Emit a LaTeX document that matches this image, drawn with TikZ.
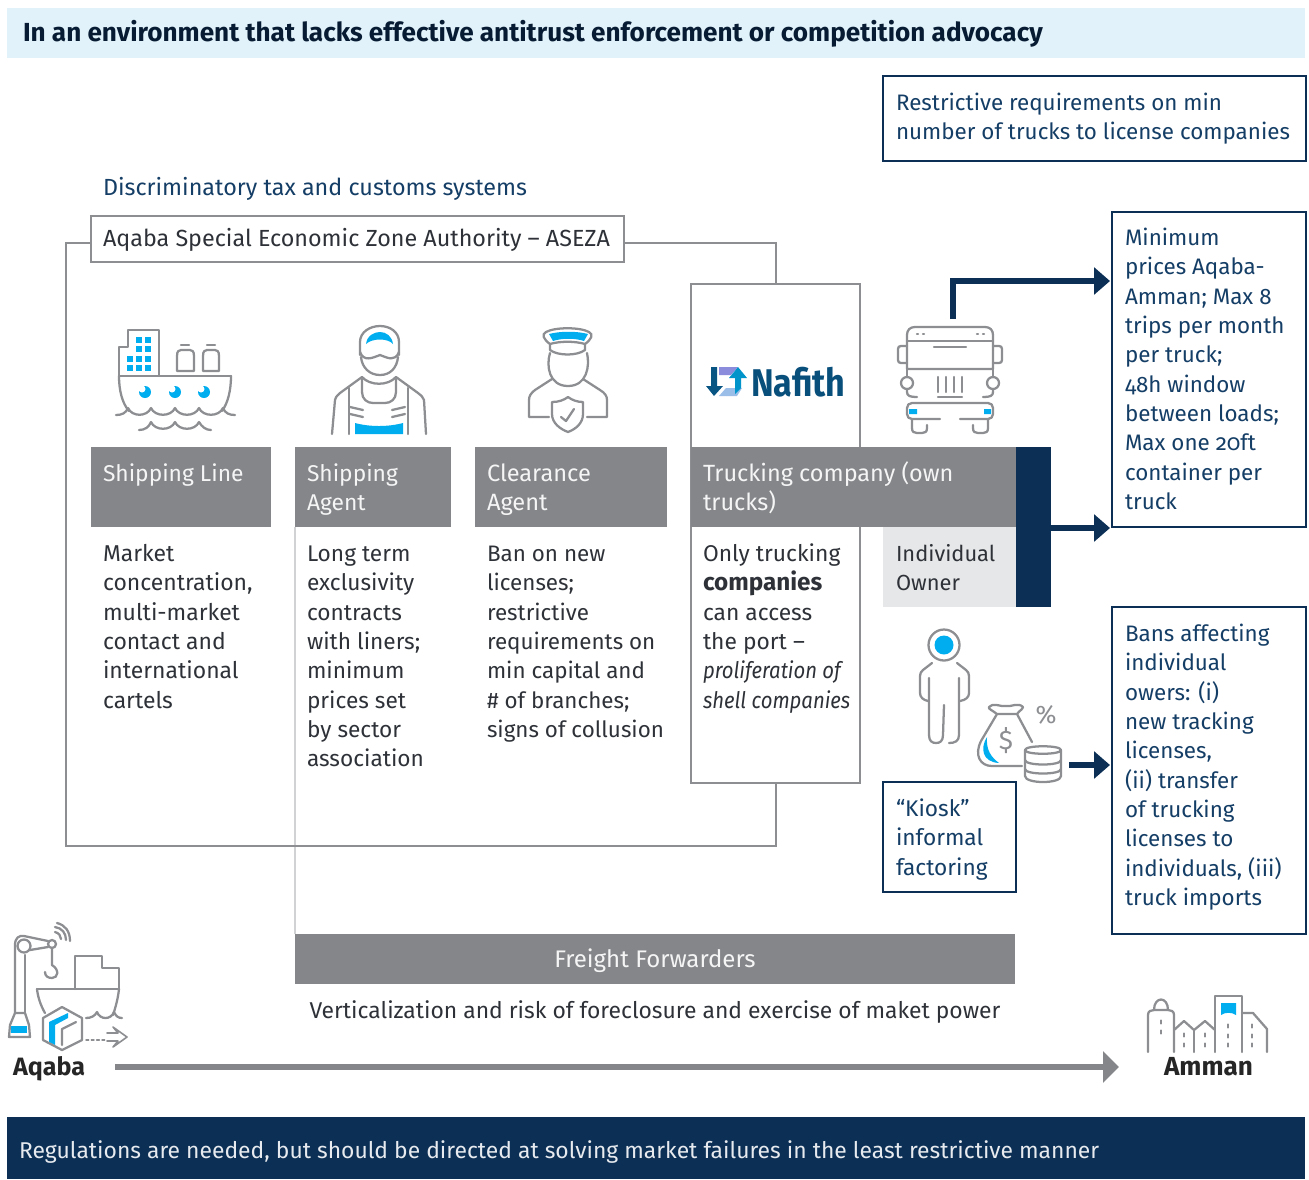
\documentclass[tikz,border=0pt]{standalone}
\usepackage{fontspec}
\usepackage{graphicx}
\setmainfont[Numbers=OldStyle]{Fira Sans}
\usetikzlibrary{arrows.meta,calc}
\definecolor{navy}{HTML}{0B2F55}
\definecolor{navytxt}{HTML}{153E66}
\definecolor{hdr}{HTML}{848689}
\definecolor{lineg}{HTML}{8C8E91}
\definecolor{cyanic}{HTML}{00AEEF}
\definecolor{banner}{HTML}{E1F2FA}
\definecolor{owner}{HTML}{E6E7E8}
\definecolor{bodytx}{HTML}{2E3238}
\newcommand{\fstrut}{\rule{0pt}{16pt}}
\newcommand{\Tx}[5]{\node[txt,#4] (#1) at (#2,#3-13) {\fstrut #5};}
\newcommand{\Bx}[6]{\node[rect,#2,minimum width=#5*0.75pt-#3*0.75pt,minimum height=#6*0.75pt-#4*0.75pt] (#1) at (#3,#4) {};}
\tikzset{
 txt/.style={anchor=north west,inner sep=0pt,outer sep=0pt,align=left,font=\fontsize{16.5pt}{22pt}\selectfont,text=bodytx},
 fs/.style={font=\fontsize{#1pt}{22pt}\selectfont},
 fsb/.style={font=\fontsize{#1pt}{22pt}\selectfont\bfseries},
 rect/.style={anchor=north west,inner sep=0pt,outer sep=0pt},
 navybox/.style={draw=navy,line width=2pt,fill=white},
 graybox/.style={draw=lineg,line width=2pt},
 grayfill/.style={fill=hdr},
 hdrtx/.style={text=white!92!hdr},
 navytx/.style={text=navytxt},
 darrow/.style={draw=navy,line width=3.8pt,-{Triangle[length=12pt,width=20pt]}},
 frameline/.style={draw=lineg,line width=2pt},
 ic/.style={draw=lineg,line width=1.7pt,line cap=round,line join=round,rounded corners=0pt},
 icf/.style={fill=cyanic},
}
\begin{document}
\begin{tikzpicture}[x=0.75pt,y=-0.75pt]
\useasboundingbox (0,0) rectangle (1309,1179);
% banners
\Bx{topbar}{fill=banner}{7}{8}{1305}{58}
\node[txt,text=navy!60!black,fsb=19.6,anchor=west] (toptext) at (23,34) {In an environment that lacks effective antitrust enforcement or competition advocacy};
\Bx{botbar}{fill=navy}{7}{1117}{1305}{1179}
\Tx{bottext}{19}{1150}{text=white!90!navy,fs=17.15}{Regulations are needed, but should be directed at solving market failures in the least restrictive manner}
% top right
\Bx{restrict}{navybox}{883}{76}{1306}{161}
\Tx{restricttx}{896}{102}{navytx,fs=16.8}{Restrictive requirements on min\\number of trucks to license companies}
\Tx{discr}{103}{187}{navytx,fs=17.5}{Discriminatory tax and customs systems}
% frame
\draw[draw=lineg!40,line width=1pt] (295,527) -- (295,934);
\coordinate (fa) at (91,243); \coordinate (fb) at (624,243);
\coordinate (fc) at (776,284); \coordinate (fd) at (776,783);
\draw[frameline] (fa) -- (66,243) -- (66,846) -- (fd |- 0,846) -- (fd);
\draw[frameline] (fb) -- (fc |- fb) -- (fc);
\Bx{aseza}{graybox,fill=white}{91}{216}{624}{262}
\Tx{asezatx}{103}{238}{fs=17.5}{Aqaba Special Economic Zone Authority -- ASEZA}
\Bx{nafith}{graybox,fill=white}{691}{284}{860}{783}
% headers
\Bx{h1}{grayfill}{91}{447}{271}{527}
\Bx{h2}{grayfill}{295}{447}{451}{527}
\Bx{h3}{grayfill}{475}{447}{667}{527}
\Bx{h4}{grayfill}{691}{447}{1016}{527}
\Bx{navybar}{fill=navy}{1016}{447}{1051}{607}
\Bx{ownerbox}{fill=owner}{883}{527}{1016}{607}
\Tx{h1t}{103}{473}{hdrtx,fs=17.1}{Shipping Line}
\Tx{h2t}{307}{473}{hdrtx,fs=17.1}{Shipping\\Agent}
\Tx{h3t}{487}{473}{hdrtx,fs=17.7}{Clearance\\Agent}
\Tx{h4t}{703}{473}{hdrtx,fs=17.6}{Trucking company (own\\trucks)}
\Tx{ownert}{896}{553}{fs=16.4}{Individual\\Owner}
\Tx{c1}{103}{553}{fs=17.2}{Market\\concentration,\\multi-market\\contact and\\international\\cartels}
\Tx{c2}{307}{553}{fs=17}{Long term\\exclusivity\\contracts\\with liners;\\minimum\\prices set\\by sector\\association}
\Tx{c3}{487}{553}{fs=16.8}{Ban on new\\licenses;\\restrictive\\requirements on\\min capital and\\\# of branches;\\signs of collusion}
\Tx{c4}{703}{553}{fs=17.1}{Only trucking\\{\fontsize{18.2pt}{22pt}\selectfont\textbf{companies}}\\can access\\the port --\\\scalebox{0.89}[1]{\textit{proliferation of}}\\\scalebox{0.89}[1]{\textit{shell companies}}}
% right boxes
\Bx{minbox}{navybox}{1112}{212}{1306}{527}
\Tx{mintx}{1125}{237}{navytx,fs=16.8}{Minimum\\prices Aqaba-\\Amman; Max 8\\trips per month\\per truck;\\48h window\\between loads;\\Max one 20ft\\container per\\truck}
\Bx{banbox}{navybox}{1112}{607}{1306}{934}
\Tx{bantx}{1125}{633}{navytx,fs=16.8}{Bans affecting\\individual\\owers: (i)\\new tracking\\licenses,\\(ii) transfer\\of trucking\\licenses to\\individuals, (iii)\\truck imports}
\Bx{kiosk}{navybox}{883}{782}{1016}{892}
\Tx{kiosktx}{896}{808}{navytx,fs=17}{“Kiosk”\\informal\\factoring}
% navy arrows
\coordinate (busTop) at (953,319);
\coordinate (minA) at (1110,281);
\coordinate (minB) at (1110,528);
\coordinate (banA) at (1110,765);
\coordinate (coinR) at (1069,765);
\draw[darrow] (busTop) |- (minA);
\draw[darrow] (navybar.east |- minB) -- (minB);
\draw[darrow] (coinR) -- (banA);
% freight
\Bx{ff}{grayfill}{295}{934}{1015}{984}
\node[txt,hdrtx,fs=18,anchor=center] (fft) at (655,959) {\fstrut Freight Forwarders};
\node[txt,fs=17.15,anchor=center] (vert) at (655,1010) {\fstrut Verticalization and risk of foreclosure and exercise of maket power};
% route
\node[txt,fsb=18.8,anchor=base west,text=black!85] (aqaba) at (13,1075) {Aqaba};
\node[txt,fsb=19.6,anchor=base west,text=black!85] (amman) at (1164,1075) {Amman};
\coordinate (routeA) at (115,1067); \coordinate (routeB) at (1119,1067);
\draw[draw=hdr,line width=3.8pt,-{Triangle[length=12pt,width=23pt]}] (routeA) -- (routeB);
% ship icon
\foreach \x/\y in {139/340,148/340,139/349,148/349,130/359,139/359,148/359,130/368,139/368,148/368}
  \fill[cyanic] (\x-3,\y-3) rectangle (\x+3,\y+3);
\draw[ic] (119,376) -- (119,347) -- (128,347) -- (128,330) -- (159,330) -- (159,376);
\draw[ic] (119,376) -- (231,376);
\draw[ic] (177,371) -- (177,356) .. controls (177,351) and (179,350) .. (181,350) -- (190,350) .. controls (192,350) and (194,351) .. (194,356) -- (194,371) -- cycle;
\draw[ic] (203,371) -- (203,356) .. controls (203,351) and (205,350) .. (207,350) -- (215,350) .. controls (217,350) and (219,351) .. (219,356) -- (219,371) -- cycle;
\draw[ic] (181,345) -- (189,345) (207,345) -- (215,345);
\draw[ic] (119,376) .. controls (119,390) and (122,403) .. (129,411);
\draw[ic] (231,376) .. controls (231,390) and (228,403) .. (222,411);
\draw[ic] (116,415) .. controls (122,415) and (126,413) .. (128,408) .. controls (132,417) and (147,417) .. (151,408) .. controls (155,417) and (171,417) .. (175,408) .. controls (179,417) and (195,417) .. (199,408) .. controls (203,417) and (219,417) .. (223,408) .. controls (225,413) and (229,415) .. (235,415);
\draw[ic] (139,430) .. controls (145,430) and (149,427) .. (151,422) .. controls (155,431) and (171,431) .. (175,422) .. controls (179,431) and (195,431) .. (199,422) .. controls (202,427) and (206,430) .. (211,430);
\foreach \x in {145,175,204}{
  \fill[cyanic] (\x,392) circle (6);
  \fill[white] (\x-3,389) circle (3.5);
}
% worker icon
\fill[cyanic] (355,423) .. controls (370,427) and (388,427) .. (403,423) -- (403,434) -- (355,434) -- cycle;
\fill[cyanic] (366,344) .. controls (367,335) and (375,332) .. (380,332) .. controls (386,332) and (392,336) .. (393,344) .. controls (388,338) and (372,338) .. (366,344) -- cycle;
\draw[ic] (360,355) -- (360,342) .. controls (360,332) and (370,326) .. (380,326) .. controls (390,326) and (399,332) .. (399,342) -- (399,355);
\draw[ic] (360,352) .. controls (364,362) and (372,358) .. (380,355) .. controls (388,358) and (395,362) .. (399,352);
\draw[ic] (361,357) .. controls (362,368) and (370,375) .. (380,375) .. controls (390,375) and (397,368) .. (398,357);
\draw[ic] (332,434) -- (335,400) .. controls (336,396) and (338,395) .. (340,393) -- (362,377) .. controls (370,386) and (388,386) .. (396,377) -- (418,393) .. controls (421,395) and (423,397) .. (424,400) -- (426,434);
\draw[ic] (349,388) -- (349,434) (408,388) -- (408,434);
\draw[ic] (362,379) -- (362,392) .. controls (362,399) and (367,403) .. (373,403) -- (385,403) .. controls (391,403) and (396,399) .. (396,392) -- (396,379);
\draw[ic] (350,407) -- (363,410) (350,414) -- (363,417) (392,410) -- (405,407) (392,417) -- (405,414);
% officer icon
\fill[cyanic] (549,334) .. controls (560,331) and (577,331) .. (588,334) -- (584,341) .. controls (575,338) and (562,338) .. (553,341) -- cycle;
\draw[ic] (550,344) .. controls (544,340) and (541,334) .. (546,332) .. controls (555,327) and (580,327) .. (589,332) .. controls (594,334) and (591,340) .. (585,344) .. controls (575,341) and (560,341) .. (550,344) -- cycle;
\draw[ic] (550,344) -- (550,350) .. controls (558,356) and (577,356) .. (585,350) -- (585,344);
\draw[ic] (550,353) .. controls (546,366) and (549,386) .. (568,386) .. controls (587,386) and (590,366) .. (587,353);
\draw[ic] (552,379) -- (535,390) .. controls (531,393) and (529,396) .. (529,400) -- (529,417) -- (549,417);
\draw[ic] (583,379) -- (600,390) .. controls (605,393) and (607,396) .. (607,400) -- (607,417) -- (587,417);
\draw[ic] (552,402) .. controls (559,402) and (564,400) .. (568,397) .. controls (572,400) and (577,402) .. (583,402) -- (583,414) .. controls (583,423) and (576,429) .. (568,432) .. controls (560,429) and (552,423) .. (552,414) -- cycle;
\draw[ic] (561,417) -- (566,421) -- (574,409);
% Nafith logo
\fill[black!30!blue!45!white] (719,367) -- (738,367) -- (731,375) -- (719,375) -- cycle;
\fill[cyan!60!blue!40!white] (719,396) -- (737,396) -- (742,388) -- (726,388) -- cycle;
\fill[cyanic!85!black] (738,367) -- (747,378) -- (741,378) -- (741,388) -- (735,394) -- (735,378) -- (729,378) -- cycle;
\fill[navy!70!cyanic] (711,367) -- (717,367) -- (717,386) -- (723,386) -- (714,396) -- (706,386) -- (711,386) -- cycle;
\node[inner sep=0pt,outer sep=0pt,anchor=north west,text=navy!75!cyanic] (nafithlogo) at (751,367) {\resizebox{71pt}{22pt}{\bfseries Nafith}};
% bus icon
\draw[ic] (907,369) -- (907,335) .. controls (907,330) and (910,327) .. (915,327) -- (985,327) .. controls (990,327) and (993,330) .. (993,335) -- (993,369) -- cycle;
\draw[ic] (907,341) -- (993,341) (934,347) -- (966,347);
\draw[ic] (917,334) -- (918,334) (923,334) -- (924,334) (977,334) -- (978,334) (983,334) -- (984,334);
\draw[ic] (907,346) -- (901,346) .. controls (899,346) and (898,347) .. (898,349) -- (898,360) .. controls (898,362) and (899,363) .. (901,363) -- (907,363);
\draw[ic] (993,346) -- (999,346) .. controls (1001,346) and (1002,347) .. (1002,349) -- (1002,360) .. controls (1002,362) and (1001,363) .. (999,363) -- (993,363);
\draw[ic] (907,369) -- (907,377) (993,369) -- (993,377);
\draw[ic] (907,383) circle (6) (993,383) circle (6);
\draw[ic] (907,389) -- (907,392) .. controls (907,396) and (910,397) .. (917,397);
\draw[ic] (993,389) -- (993,392) .. controls (993,396) and (990,397) .. (983,397);
\draw[ic] (938,377) -- (938,392) (946,377) -- (946,392) (954,377) -- (954,392) (962,377) -- (962,392) (938,397) -- (962,397);
\fill[cyanic] (909,409) rectangle (917,414) (984,409) rectangle (991,414);
\draw[ic] (940,419) -- (912,419) .. controls (909,419) and (907,417) .. (907,414) -- (907,408) .. controls (907,405) and (909,403) .. (912,403) -- (988,403) .. controls (991,403) and (993,405) .. (993,408) -- (993,414) .. controls (993,417) and (991,419) .. (988,419) -- (960,419);
\draw[ic] (912,419) -- (912,428) .. controls (912,432) and (914,433) .. (917,433) -- (922,433) .. controls (925,433) and (927,432) .. (927,428) -- (927,425);
\draw[ic] (988,419) -- (988,428) .. controls (988,432) and (986,433) .. (983,433) -- (978,433) .. controls (975,433) and (973,432) .. (973,428) -- (973,425);
% person icon
\draw[ic] (944,645) circle (15.5);
\fill[cyanic] (944,645) circle (9.5);
\draw[ic] (932,663) -- (923,670) .. controls (921,672) and (920,673) .. (920,676) -- (920,693) .. controls (920,697) and (923,700) .. (928,701);
\draw[ic] (957,663) -- (966,670) .. controls (968,672) and (969,673) .. (969,676) -- (969,693) .. controls (969,697) and (966,700) .. (960,701);
\draw[ic] (929,678) -- (929,735) .. controls (929,741) and (932,743) .. (936,743) .. controls (940,743) and (943,741) .. (943,735) -- (944,705);
\draw[ic] (949,743) .. controls (955,743) and (959,741) .. (959,735) -- (959,678);
% money icon
\fill[cyanic] (987,737) .. controls (980,748) and (982,762) .. (999,763) .. controls (991,757) and (986,750) .. (987,737) -- cycle;
\draw[ic] (997,714) .. controls (992,710) and (988,709) .. (989,707) .. controls (993,702) and (1000,707) .. (1006,706) .. controls (1012,707) and (1018,702) .. (1023,707) .. controls (1023,709) and (1019,711) .. (1017,714) -- cycle;
\draw[ic] (997,714) -- (981,741) .. controls (974,755) and (980,766) .. (992,766) -- (1022,766);
\draw[ic] (1017,714) -- (1032,742);
\draw[ic] (1025,750) .. controls (1025,745) and (1061,745) .. (1061,750) .. controls (1061,755) and (1025,755) .. (1025,750) -- cycle;
\draw[ic] (1025,750) -- (1025,776) .. controls (1025,784) and (1061,784) .. (1061,776) -- (1061,750);
\draw[ic] (1025,760) .. controls (1025,766) and (1061,766) .. (1061,760);
\draw[ic] (1025,769) .. controls (1025,775) and (1061,775) .. (1061,769);
\node[inner sep=0pt,text=lineg,font=\fontsize{20pt}{22pt}\selectfont] (dollar) at (1006,741) {\$};
\node[inner sep=0pt,text=lineg,font=\fontsize{19pt}{22pt}\selectfont] (percent) at (1046,715) {\%};
% Aqaba icon
\draw[ic] (15,1013) -- (15,945) .. controls (15,938) and (19,935) .. (24,936) -- (48,941);
\draw[ic] (25,955) -- (25,1013);
\draw[ic] (24,946) circle (6.5);
\draw[ic] (30,950) -- (48,947);
\draw[ic] (52,944) circle (4);
\draw[ic] (52,948) -- (52,965) .. controls (60,970) and (58,978) .. (52,978) .. controls (48,978) and (45,976) .. (45,972);
\draw[ic] (55,932) .. controls (59,933) and (61,936) .. (61,939);
\draw[ic] (55,927) .. controls (62,928) and (66,933) .. (66,940);
\draw[ic] (57,923) .. controls (65,925) and (70,931) .. (70,941);
\fill[cyanic] (11,1026) -- (27,1026) -- (27,1033) -- (11,1033) -- cycle;
\draw[ic] (15,1013) -- (10,1025) -- (9,1037) -- (30,1037) -- (29,1025) -- (25,1013) -- cycle;
\draw[ic] (75,989) -- (75,956) -- (102,956) -- (102,968) -- (119,968) -- (119,989);
\draw[ic] (37,989) -- (119,989);
\draw[ic] (37,989) .. controls (38,998) and (41,1006) .. (45,1013);
\draw[ic] (119,989) .. controls (118,998) and (116,1006) .. (113,1015);
\draw[ic] (86,1018) .. controls (91,1018) and (95,1016) .. (97,1012) .. controls (100,1020) and (111,1020) .. (114,1012) .. controls (116,1016) and (118,1018) .. (122,1018);
\fill[cyanic] (49,1022) -- (68,1013) -- (68,1018) -- (55,1025) -- (55,1045) -- (49,1042) -- cycle;
\draw[ic] (62,1007) -- (82,1018) -- (82,1040) -- (62,1050) -- (43,1040) -- (43,1018) -- cycle;
\draw[ic] (62,1045) -- (62,1029) -- (76,1022);
\draw[ic,line width=1.1pt,dash pattern=on 2pt off 2pt] (86,1040) -- (107,1040);
\draw[ic,line width=1.2pt] (107,1033) -- (118,1033) -- (113,1027) -- (127,1037) -- (113,1047) -- (118,1041) -- (107,1041);
% Amman icon
\fill[cyanic] (1221,1003) -- (1236,1003) -- (1236,1015) .. controls (1232,1012) and (1225,1012) .. (1221,1015) -- cycle;
\draw[ic] (1148,1052) -- (1148,1015) .. controls (1148,1011) and (1151,1010) .. (1154,1010) -- (1168,1010) .. controls (1171,1010) and (1174,1011) .. (1174,1015) -- (1174,1052);
\draw[ic] (1154,1010) .. controls (1154,996) and (1168,996) .. (1168,1010);
\draw[ic] (1174,1030) -- (1184,1021) -- (1194,1030) -- (1205,1021) -- (1215,1030);
\draw[ic] (1194,1030) -- (1194,1052);
\draw[ic] (1215,1052) -- (1215,996) -- (1242,996) -- (1242,1052);
\draw[ic] (1242,1013) -- (1253,1013) -- (1267,1029) -- (1267,1052);
\foreach \x/\y in {1161/1022,1161/1032,1184/1035,1184/1045,1205/1035,1205/1045,1228/1026,1228/1036,1228/1045,1252/1026,1252/1036,1252/1045}
  \draw[ic] (\x,\y-1.5) -- (\x,\y+1.5);
\end{tikzpicture}
\end{document}
